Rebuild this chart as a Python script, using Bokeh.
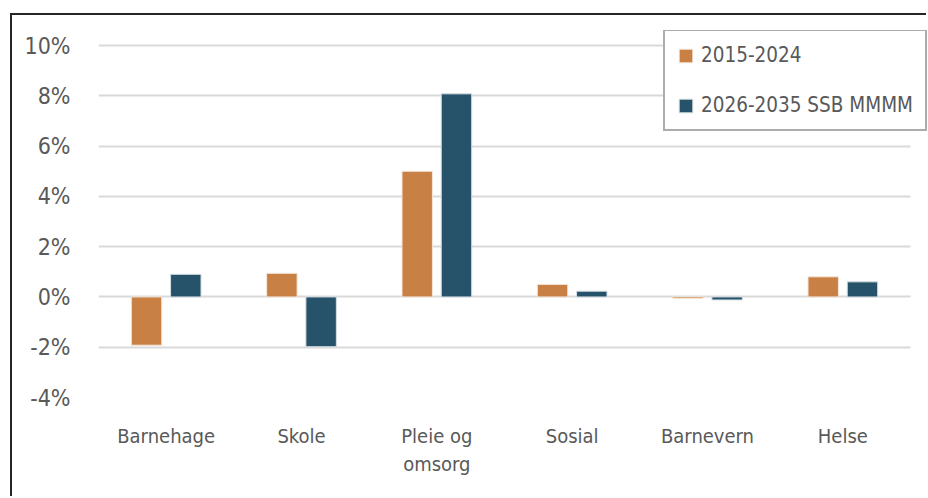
import numpy as np
from bokeh.plotting import figure
from bokeh.models import ColumnDataSource, FixedTicker, Legend, LegendItem, Range1d, BoxAnnotation
from bokeh.transform import dodge
from bokeh.embed import file_html
from bokeh.resources import INLINE

# Annual growth by sector, in percent
categories = ["Barnehage", "Skole", "Pleie og omsorg", "Sosial", "Barnevern", "Helse"]
category_labels = ["Barnehage", "Skole", "Pleie og\nomsorg", "Sosial", "Barnevern", "Helse"]
series_2015_2024 = [-1.92, 0.94, 5.0, 0.5, -0.06, 0.8]
series_2026_2035 = [0.9, -1.98, 8.08, 0.23, -0.12, 0.6]
series_names = ["2015-2024", "2026-2035 SSB MMMM"]
y_ticks = [-4, -2, 0, 2, 4, 6, 8, 10]

FONT = "DejaVu Sans Condensed"
TEXT = "#595959"
ORANGE = "#C88044"
TEAL = "#26536A"

n = len(categories)
centers = np.arange(n) + 0.5
src = ColumnDataSource(dict(x=centers, cat=categories, a=series_2015_2024, b=series_2026_2035))

p = figure(
    x_range=Range1d(0, n + 0.133), y_range=Range1d(-4, 10.6),
    width=916, height=483,
    output_backend="svg", toolbar_location=None,
    min_border_left=86, min_border_right=0, min_border_top=15, min_border_bottom=101,
    styles={"margin-left": "10px", "margin-top": "13px",
            "border-left": "2px solid #262626", "border-top": "2px solid #262626"},
)
p.outline_line_color = None

r1 = p.vbar(x=dodge("x", -0.145), top="a", width=0.225, source=src,
            fill_color=ORANGE, line_color="#F3E6DA", line_width=1)
r2 = p.vbar(x=dodge("x", 0.145), top="b", width=0.225, source=src,
            fill_color=TEAL, line_color="#D5DEE3", line_width=1)

# gridlines stop at the last category; blank out the strip to their right
p.add_layout(BoxAnnotation(left=n, fill_color="white", fill_alpha=1, line_color=None))

# axes
p.xgrid.grid_line_color = None
p.ygrid.grid_line_color = "#D9D9D9"
p.ygrid.grid_line_width = 2
p.yaxis.ticker = FixedTicker(ticks=y_ticks)
p.yaxis.major_label_overrides = {t: f"{t}%" for t in y_ticks}
p.xaxis.ticker = FixedTicker(ticks=list(centers))
p.xaxis.major_label_overrides = {float(c): lab for c, lab in zip(centers, category_labels)}
for ax in (p.xaxis[0], p.yaxis[0]):
    ax.axis_line_color = None
    ax.major_tick_line_color = None
    ax.minor_tick_line_color = None
    ax.major_label_text_font = FONT
    ax.major_label_text_color = TEXT
p.yaxis.major_label_text_font_size = "23px"
p.xaxis.major_label_text_font_size = "20px"
p.yaxis.major_label_standoff = 22
p.xaxis.major_label_standoff = 20

legend = Legend(
    items=[LegendItem(label=series_names[0], renderers=[r1]),
           LegendItem(label=series_names[1], renderers=[r2])],
    location=(565, 266),
    border_line_color="#595959", border_line_width=2,
    background_fill_color="white", background_fill_alpha=1,
    label_text_font=FONT, label_text_font_size="20.5px", label_text_color=TEXT,
    glyph_width=17, glyph_height=17, label_standoff=7,
    padding=12, spacing=26, margin=0,
)
p.add_layout(legend, "center")

open("out.html", "w").write(file_html(p, INLINE))
